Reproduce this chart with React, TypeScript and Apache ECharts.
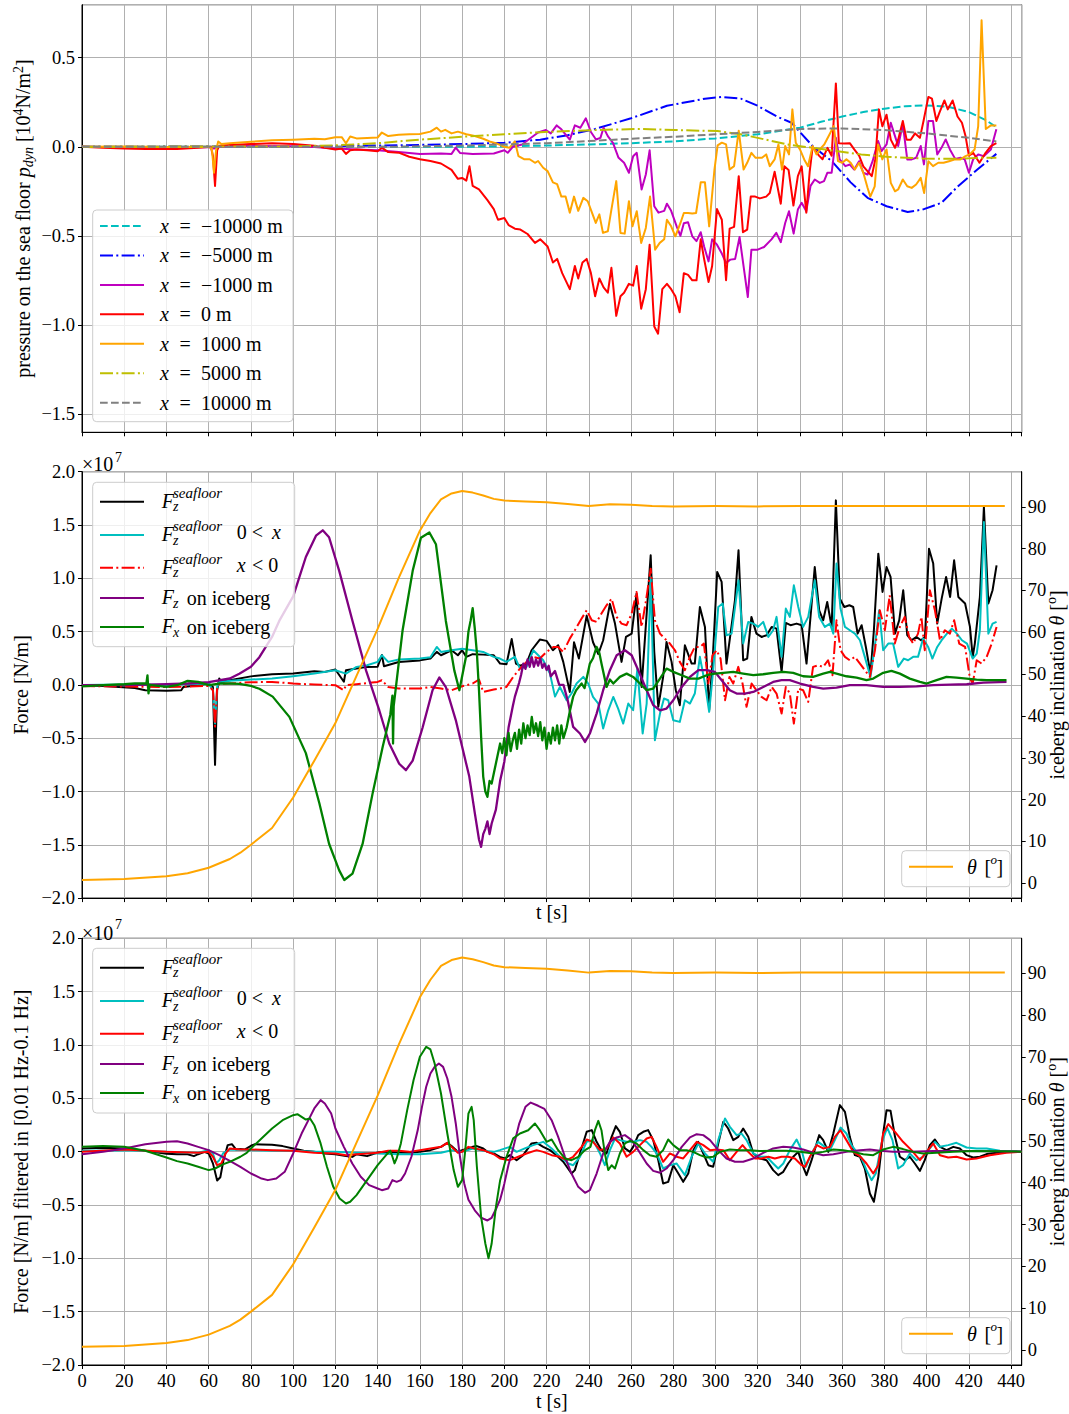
import React, { useEffect, useRef } from 'react';
import * as echarts from 'echarts';

type P = [number, number][];

const FONT = '"Liberation Serif", "Times New Roman", serif';

// ---------- shared time axis ----------
const T_MIN = 0;
const T_MAX = 445;
const T_STEP = 20;

// ---------- Panel 1: dynamic pressure on the sea floor [1e4 N/m^2] ----------
const p1Labels = ['\u221210000 m', '\u22125000 m', '\u22121000 m', '0 m', '1000 m', '5000 m', '10000 m'];

const pXm10000: P = [[0,0],[50,0],[100,0],[150,0],[180,0],[200,0.002],[220,0.007],[240,0.013],[260,0.02],[280,0.03],[300,0.047],[320,0.07],[330,0.088],[340,0.107],[350,0.14],[360,0.17],[370,0.195],[380,0.214],[390,0.228],[400,0.232],[410,0.225],[420,0.195],[428,0.15],[433,0.11]];

const pXm5000: P = [[0,0],[100,0.002],[150,0.008],[180,0.015],[200,0.022],[217,0.04],[230,0.065],[243,0.1],[260,0.16],[277,0.23],[295,0.27],[303,0.28],[312,0.27],[320,0.23],[329,0.17],[336,0.135],[346,0.004],[355,-0.08],[364,-0.2],[372,-0.287],[381,-0.334],[391,-0.366],[398,-0.353],[407,-0.315],[415,-0.22],[424,-0.128],[433,-0.04]];

const pXm1000: P = [[0,0],[20,-0.003],[40,-0.005],[60,-0.002],[62.5,-0.01],[64,0],[80,0.005],[100,0.003],[110,-0.002],[120,-0.01],[130,-0.015],[140,-0.02],[150,-0.03],[160,-0.04],[170,-0.038],[175,-0.04],[177,-0.005],[179,-0.035],[185,-0.04],[195,-0.038],[200,-0.02],[201.6,-0.034],[204,0],[208.4,0.013],[212,0.045],[216,0.08],[219.7,0.094],[222,0.075],[224.8,0.12],[227,0.098],[231,0.04],[233.4,0.12],[236,0.107],[238.6,0.16],[241,0.083],[243.4,0.041],[245.5,0.05],[247,0.107],[249,0.06],[251.5,0.02],[254,-0.06],[256.7,-0.09],[259,-0.146],[261,-0.053],[262.7,-0.034],[265,-0.24],[267,-0.156],[268.8,-0.02],[271,-0.334],[273,-0.37],[275.7,-0.36],[277,-0.32],[279,-0.36],[281.7,-0.45],[283.4,-0.5],[285,-0.43],[287,-0.424],[289,-0.503],[291,-0.53],[293,-0.48],[294.6,-0.56],[296.7,-0.644],[298.4,-0.52],[300.7,-0.55],[303,-0.6],[305,-0.653],[307,-0.634],[309.3,-0.63],[311.4,-0.507],[313.3,-0.672],[315.3,-0.844],[317,-0.578],[320,-0.578],[323,-0.563],[326.5,-0.52],[328.8,-0.484],[330.9,-0.536],[333,-0.428],[334.8,-0.362],[337,-0.488],[339,-0.353],[340.8,-0.315],[343,-0.362],[345,-0.22],[347,-0.184],[349.4,-0.203],[351.4,-0.193],[353,-0.146],[355,-0.146],[357,0.05],[358.8,-0.071],[361.5,-0.109],[363.6,-0.1],[365.7,-0.128],[368,-0.081],[370,-0.146],[372,-0.156],[374.4,-0.081],[377,0.032],[378.6,-0.024],[381,0.013],[383,0.135],[385,0.06],[386.5,0.004],[388.7,0.126],[390.8,-0.071],[392.9,-0.071],[395,-0.062],[397.2,0.004],[398.7,-0.099],[400.8,0.144],[403,0.144],[405,-0.043],[407,-0.006],[409,0.041],[411,-0.015],[413.5,-0.068],[416,-0.062],[418,-0.071],[420,-0.146],[422,-0.071],[424.4,-0.043],[427,-0.053],[430.4,-0.015],[433,0.098]];

const pX0: P = [[0,0],[10,-0.005],[20,-0.01],[30,-0.012],[45,-0.012],[55,-0.005],[61,0],[62,-0.05],[63,-0.22],[64,-0.02],[65,0.005],[70,0.01],[80,0.015],[90,0.02],[100,0.015],[110,0.005],[115,-0.005],[120,-0.015],[123,-0.01],[125,-0.04],[127,-0.02],[130,-0.015],[135,-0.02],[140,-0.025],[142,-0.005],[145,-0.03],[150,-0.033],[155,-0.056],[160,-0.07],[165,-0.08],[170,-0.094],[175,-0.13],[178,-0.18],[180,-0.175],[182,-0.19],[183.5,-0.11],[185,-0.22],[188,-0.24],[192,-0.3],[195,-0.35],[197,-0.41],[200,-0.4],[202,-0.44],[205,-0.46],[207.6,-0.465],[211,-0.49],[214.5,-0.54],[217,-0.52],[220.5,-0.56],[223,-0.65],[225,-0.63],[227.4,-0.71],[231,-0.8],[233.4,-0.67],[235,-0.74],[237,-0.65],[239,-0.63],[241,-0.71],[243,-0.84],[245,-0.74],[247,-0.79],[249,-0.82],[250.7,-0.68],[253,-0.95],[255,-0.84],[256.7,-0.82],[259,-0.77],[261,-0.78],[262.7,-0.67],[264.8,-0.91],[267,-0.8],[268.8,-0.55],[271,-1.01],[272.8,-1.05],[274.8,-0.8],[277,-0.77],[279,-0.8],[281,-0.84],[283,-0.93],[285,-0.71],[287,-0.72],[289,-0.75],[291,-0.75],[293,-0.52],[294.6,-0.63],[296.7,-0.76],[298.4,-0.67],[300.7,-0.35],[303,-0.41],[305,-0.75],[306.7,-0.46],[308.8,-0.45],[311,-0.165],[313,-0.48],[315,-0.465],[316.7,-0.28],[318.8,-0.28],[321,-0.29],[324,-0.28],[325.7,-0.26],[328,-0.14],[330.9,-0.32],[332.6,-0.11],[334.6,-0.13],[336.9,-0.33],[339,-0.165],[340.8,-0.11],[343,-0.37],[344.6,-0.14],[346,0],[349,-0.05],[350.7,-0.07],[353,-0.006],[355,-0.05],[357,0.356],[358.4,0.02],[361,0.019],[363.6,0.02],[365.7,-0.015],[368,-0.05],[370,-0.11],[374,-0.165],[375.7,-0.07],[377.4,0.21],[379,0.115],[381,0.18],[383,0.04],[385,-0.006],[386.5,0.04],[388.7,0.145],[390.5,0.04],[392.5,0.04],[394.5,0.075],[396.8,0.05],[398.5,0.145],[400.8,0.28],[402.5,0.27],[404.6,0.145],[406,0.19],[408.4,0.26],[410,0.21],[412.3,0.26],[414.6,0.17],[416.7,0.135],[418.4,0.06],[420,-0.05],[422,-0.034],[423.5,-0.062],[425,-0.09],[427.9,-0.034],[430.4,0.004],[433,0.02]];

const pX1000: P = [[0,0],[20,0.002],[40,-0.002],[60,0],[61.5,-0.01],[62.5,-0.146],[63.5,-0.02],[64.5,0.03],[66,0.015],[70,0.02],[80,0.028],[90,0.036],[100,0.04],[110,0.045],[115,0.042],[120,0.054],[123,0.054],[125,0.02],[127,0.058],[130,0.047],[140,0.052],[142,0.08],[145,0.06],[150,0.068],[155,0.07],[160,0.072],[165,0.085],[168,0.107],[170,0.085],[172,0.095],[175,0.075],[178,0.085],[182,0.07],[186,0.06],[190,0.045],[193,0.03],[196,0.02],[200,0],[202.4,-0.006],[205,0.03],[206.7,-0.053],[209.3,-0.07],[212,-0.07],[214.5,-0.09],[216,-0.08],[218.4,-0.118],[220.5,-0.137],[223,-0.2],[225,-0.21],[227,-0.28],[229,-0.28],[231,-0.37],[233,-0.28],[235,-0.36],[237.4,-0.287],[239.5,-0.306],[241.5,-0.37],[243.3,-0.428],[245,-0.38],[246.7,-0.484],[249,-0.475],[250.7,-0.353],[253,-0.193],[255,-0.484],[257,-0.488],[259,-0.306],[260.7,-0.447],[262.7,-0.362],[264.8,-0.54],[267,-0.456],[269,-0.28],[271.4,-0.578],[273.6,-0.54],[275.7,-0.52],[277,-0.41],[279,-0.447],[281,-0.503],[283.4,-0.428],[285,-0.372],[287,-0.372],[289,-0.375],[290.8,-0.372],[293,-0.2],[295,-0.2],[297,-0.447],[299.5,-0.128],[301,0.008],[303,0.023],[305,0.013],[306.7,-0.128],[308.8,-0.109],[311,0.09],[313.3,-0.128],[315,-0.09],[317,-0.034],[319,-0.062],[322,-0.062],[324,-0.043],[325.7,-0.109],[328,-0.071],[329.8,0.013],[331.5,-0.128],[333,0.004],[334.8,-0.043],[336.4,0.21],[338,0.023],[340,-0.015],[342,-0.071],[343.8,-0.109],[346,0.004],[347.8,-0.043],[350,-0.006],[351.5,0.013],[353.6,0.06],[356,0.116],[358,-0.081],[360,-0.09],[362,-0.071],[364,-0.09],[366,-0.128],[368,-0.09],[370,-0.146],[372,-0.23],[373.3,-0.28],[375.4,-0.222],[377,0.013],[379,-0.071],[381,-0.015],[383,-0.203],[385,-0.25],[386.5,-0.24],[388.7,-0.184],[390.8,-0.222],[392.9,-0.231],[395,-0.212],[397.2,-0.175],[398.8,-0.26],[400.8,-0.081],[403,-0.109],[405.5,-0.09],[408,-0.09],[410.6,-0.081],[413.5,-0.071],[416,-0.071],[418.4,-0.053],[420.4,-0.043],[422.7,-0.015],[424.4,0.116],[426,0.71],[428,0.1],[430.4,0.12],[433,0.12]];

const pX5000: P = [[0,0],[100,0.002],[120,0.008],[140,0.02],[160,0.04],[180,0.056],[200,0.07],[217,0.082],[243,0.094],[265,0.1],[281,0.094],[301,0.088],[312,0.07],[320,0.05],[334,0.013],[346,-0.006],[357,-0.024],[369,-0.043],[381,-0.056],[398,-0.066],[415,-0.068],[425,-0.062],[433,-0.062]];

const pX10000: P = [[0,0],[150,0],[180,0.007],[200,0.013],[220,0.02],[240,0.032],[260,0.045],[280,0.056],[300,0.07],[320,0.083],[340,0.1],[360,0.103],[380,0.094],[400,0.075],[420,0.05],[433,0.03]];

// ---------- Panel 2: forces [1e7 N/m] ----------
const fzSeafloor: P = [[0,0],[10,-0.01],[25,-0.03],[30,-0.05],[40,-0.056],[47,-0.05],[48,-0.02],[55,-0.003],[60,0.012],[62,-0.02],[63,-0.75],[64,-0.05],[65,0.06],[66,0.03],[70,0.044],[80,0.08],[90,0.1],[100,0.106],[110,0.128],[115,0.122],[120,0.144],[124,0.03],[125,0.138],[130,0.153],[135,0.169],[140,0.17],[142,0.28],[143,0.175],[150,0.215],[160,0.23],[165,0.247],[168,0.31],[170,0.278],[175,0.325],[178,0.278],[180,0.325],[182,0.263],[185,0.288],[190,0.284],[195,0.278],[198,0.2],[201,0.194],[203.5,0.43],[205.5,0.2],[207.4,0.18],[210.5,0.2],[212.9,0.325],[216.8,0.425],[220,0.413],[223,0.325],[225.5,0.372],[227.9,0.216],[231,-0.066],[233,0.4],[235.3,0.247],[239,0.65],[242,0.4],[244.5,0.29],[246.8,0.419],[250,0.76],[252.4,0.575],[255.5,0.216],[257.6,0.45],[260.3,0.481],[262.6,0.856],[265,-0.019],[267.4,0.669],[269.3,1.216],[271,0.309],[272.9,-0.206],[275.2,0.075],[276.8,0.403],[279.2,0.216],[281.2,-0.05],[283.1,-0.191],[285.5,0.372],[288.7,0.2],[290.2,0.2],[292.6,0.731],[295,0.544],[297,-0.238],[298.9,0.325],[300.8,1.06],[302.9,0.966],[305.2,0.2],[306.8,0.434],[309.2,0.794],[310.9,1.262],[313.1,0.231],[315,0.247],[317,0.638],[319.4,0.481],[321.8,0.45],[324.2,0.466],[326.6,0.544],[328.9,0.528],[331.3,0.122],[333.3,0.581],[335.5,0.56],[338.4,0.575],[340.8,0.56],[343.1,0.2],[347,1.106],[349.1,0.7],[351,0.606],[352.9,0.778],[355,0.544],[357,1.731],[358.9,0.809],[361,0.731],[363.4,0.747],[365.2,0.731],[367.3,0.481],[369.2,0.56],[371.2,0.356],[373.4,0.106],[375,0.513],[377.1,1.231],[379.1,0.872],[381,1.106],[382.9,1.013],[385,0.481],[387,0.606],[388.9,0.888],[390.8,0.466],[392.8,0.419],[395.2,0.45],[397.3,0.419],[399.2,0.45],[401.1,1.278],[403.1,1.138],[405,0.575],[407.1,0.809],[409.2,1.013],[411.1,0.825],[413,1.169],[415,0.825],[418.2,0.763],[420.5,0.544],[421.8,0.263],[422.8,0.388],[425.2,0.825],[427.1,1.669],[429.2,0.763],[431.2,0.888],[433.1,1.122]];

const fzSeafloorPos: P = [[0,0],[20,0.003],[40,0],[60,0.012],[62,-0.05],[63,-0.36],[64,-0.02],[65,0.028],[70,0.038],[80,0.05],[90,0.06],[100,0.081],[110,0.106],[120,0.138],[125,0.106],[130,0.169],[135,0.184],[140,0.216],[142,0.278],[145,0.216],[150,0.238],[160,0.247],[165,0.26],[168,0.356],[170,0.309],[175,0.325],[180,0.34],[185,0.325],[190,0.309],[195,0.263],[197.9,0.247],[201,0.216],[205,0.263],[207.4,0.153],[210.5,0.169],[213.7,0.325],[218.4,0.231],[221.6,0.106],[224,-0.11],[226.3,-0.019],[229.5,-0.144],[231.8,-0.081],[234.2,0.013],[237.4,0.075],[239.7,0.013],[242,-0.113],[244.5,-0.175],[246.8,-0.41],[249.2,-0.238],[251.6,-0.113],[253.9,-0.222],[256.3,-0.363],[258.7,-0.175],[261,-0.238],[263,0.153],[265.5,-0.456],[267.4,-0.175],[269.3,1.01],[271.3,-0.519],[273.7,-0.269],[275.6,-0.128],[277.6,-0.144],[280,-0.331],[283.1,-0.347],[285.5,-0.144],[287.9,-0.175],[290.2,-0.081],[292.6,0.263],[295,0.013],[297,-0.253],[298.9,0.138],[301.3,0.731],[303.4,0.763],[305.2,0.466],[307.6,0.481],[310.9,0.981],[313.1,0.388],[315.5,0.591],[317.9,0.575],[320.2,0.544],[322.6,0.591],[325,0.45],[327.3,0.513],[328.9,0.638],[331.3,0.263],[333.3,0.716],[335.2,0.638],[337.1,0.934],[339.2,0.731],[341.5,0.544],[343.9,0.638],[347,0.981],[349.1,0.638],[351.8,0.544],[354.2,0.575],[355.8,0.481],[357.3,1.138],[359.2,0.716],[361.3,0.544],[363.6,0.513],[366,0.481],[368.4,0.419],[370.7,0.263],[373.4,0.075],[375.5,0.372],[377.5,0.7],[379.4,0.325],[381.8,0.388],[384.1,0.388],[386.5,0.169],[389.2,0.247],[391.2,0.231],[393.6,0.263],[395.9,0.263],[398.3,0.434],[400.7,0.356],[402.7,0.247],[405,0.356],[407.1,0.419],[409.6,0.481],[411.9,0.528],[414.3,0.481],[416.7,0.419],[419.1,0.388],[421.8,0.247],[423.7,0.294],[425.2,0.513],[427.1,1.528],[429.2,0.481],[431.2,0.575],[433.1,0.591]];

const fzSeafloorNeg: P = [[0,-0.01],[20,-0.015],[40,-0.02],[60,-0.01],[62,-0.05],[63,-0.39],[64,-0.03],[65,0.01],[70,0.013],[80,0.025],[90,0.028],[100,0.013],[110,0.003],[120,-0.003],[124,-0.05],[125,-0.003],[130,0.006],[140,0.028],[142,0.044],[145,-0.019],[150,-0.034],[160,-0.034],[165,-0.019],[170,-0.034],[175,-0.05],[180,-0.013],[185,0.013],[188,0.05],[190,-0.066],[195,-0.044],[197.9,-0.034],[201,-0.019],[204.2,0.075],[207.4,0.153],[210.5,0.216],[213.7,0.263],[216.8,0.247],[220,0.309],[223.2,0.356],[225.5,0.356],[227.9,0.309],[231,0.434],[233.4,0.513],[236.6,0.622],[239,0.7],[241.4,0.606],[243.7,0.591],[246,0.669],[248.4,0.747],[250.8,0.809],[253.2,0.638],[255.5,0.575],[257.9,0.56],[260.3,0.669],[262.6,0.872],[265,0.544],[267.1,0.794],[269.3,1.09],[271.3,0.606],[273.7,0.481],[276,0.434],[278.4,0.388],[280.8,0.325],[283.1,0.216],[285.5,0.138],[287.9,0.263],[290.2,0.356],[292.6,0.356],[294.5,0.388],[296.6,0.013],[298.6,0.278],[300.5,0.325],[302.4,0.247],[304.5,-0.144],[306.6,0.075],[308.4,0.013],[310.8,0.169],[312.8,0.013],[314.7,-0.206],[317.1,0.013],[319.4,-0.05],[321.8,-0.113],[324.2,-0.144],[326.6,-0.019],[328.9,-0.081],[331.3,-0.269],[333.3,-0.019],[335.2,-0.081],[337.1,-0.363],[339.2,-0.034],[341.5,-0.05],[343.9,-0.16],[346.2,0.169],[348.6,0.184],[351,0.169],[353.3,0.231],[355.4,0.091],[357.3,0.606],[359.2,0.325],[361.3,0.263],[363.6,0.231],[366,0.263],[368.4,0.2],[370.7,0.138],[373.1,0.075],[375.5,0.325],[377.8,0.7],[380.2,0.513],[382.5,0.841],[384.9,0.388],[387.3,0.544],[389.6,0.638],[391.7,0.45],[393.6,0.388],[395.9,0.481],[397.5,0.638],[399.1,0.325],[401.5,0.888],[403.9,0.7],[406.3,0.419],[408.6,0.513],[411,0.481],[413,0.606],[415.4,0.388],[418.2,0.356],[420.5,0.06],[421.8,0.013],[423.7,0.231],[426,0.2],[428.4,0.263],[430.8,0.388],[433.1,0.544]];

const fzIceberg: P = [[0,-0.003],[20,-0.003],[40,0.006],[50,0.013],[60,0.025],[70,0.06],[74.5,0.105],[80,0.17],[84,0.26],[90,0.45],[93.4,0.6],[100,0.83],[106,1.2],[110.8,1.4],[114,1.45],[117,1.385],[121.8,1.07],[128.1,0.6],[134.5,0.136],[140.8,-0.24],[145.5,-0.55],[150.2,-0.74],[153.4,-0.8],[156.6,-0.71],[161.3,-0.4],[166,-0.05],[169.2,0.07],[172.3,-0.02],[177,-0.33],[183.4,-0.86],[186,-1.2],[188,-1.45],[189,-1.52],[190,-1.4],[191,-1.35],[192,-1.28],[193,-1.4],[194,-1.3],[196,-1.17],[198,-0.9],[200,-0.72],[202,-0.4],[204,-0.2],[205,-0.11],[207,0.02],[208,0.1],[209,0.2],[210,0.15],[211,0.24],[212,0.17],[213,0.26],[214,0.17],[215,0.24],[216,0.18],[217,0.25],[218,0.16],[219,0.2],[220,0.14],[221,0.18],[222,0.08],[224,0.13],[226,0],[228,0],[230,-0.145],[232.6,-0.394],[235.8,-0.456],[238.2,-0.535],[240.5,-0.456],[243.7,-0.269],[246.8,-0.05],[250,0.138],[253.2,0.278],[257.1,0.325],[260.3,0.278],[263.4,0.138],[267.4,-0.05],[270.5,-0.19],[273.7,-0.238],[276.8,-0.222],[280,-0.144],[284,-0.019],[287.9,0.075],[291.9,0.138],[295.8,0.138],[299.7,0.122],[302.9,0.044],[306.8,-0.05],[310,-0.081],[313.9,-0.081],[317.9,-0.066],[322.6,-0.019],[327.3,0.028],[331.3,0.044],[335.2,0.044],[340,0.013],[346.3,-0.019],[351,-0.034],[357.3,-0.025],[363.6,-0.003],[371.5,-0.003],[379.4,-0.019],[387.3,-0.019],[395.2,-0.013],[403.1,-0.003],[411.1,0.003],[419,0.006],[426.8,0.022],[437.8,0.028]];

const fxIceberg: P = [[0,-0.013],[10,-0.003],[20,0.006],[25,0.013],[30.5,0.013],[31,0.09],[31.5,-0.08],[32,0],[40,-0.019],[45,-0.003],[50,0.038],[55,0.028],[60,-0.003],[65,0.013],[70,0.013],[74.5,0.01],[80,-0.01],[84,-0.036],[90.3,-0.11],[98.2,-0.3],[106,-0.64],[112.4,-1.11],[117,-1.49],[121.8,-1.74],[124.2,-1.83],[128.1,-1.77],[132.9,-1.49],[137.6,-1.02],[142.4,-0.58],[146,-0.28],[147,-0.1],[147.3,-0.55],[147.6,-0.2],[151.8,0.51],[156.6,1.07],[160.5,1.38],[164.5,1.43],[167.6,1.32],[172.3,0.6],[176.3,0.136],[178.7,-0.05],[181.8,0.26],[183,0.5],[184,0.6],[185,0.72],[186,0.53],[187,0.3],[188,-0.05],[189,-0.488],[190,-0.86],[191,-1],[192,-1.05],[193,-0.9],[194,-0.925],[196,-0.738],[198,-0.55],[199,-0.64],[200,-0.5],[201,-0.66],[202,-0.45],[203,-0.62],[204,-0.52],[205,-0.45],[206,-0.6],[207,-0.42],[208,-0.55],[209,-0.36],[210,-0.5],[211,-0.38],[212,-0.47],[213,-0.3],[214,-0.45],[215,-0.36],[216,-0.48],[217,-0.35],[218,-0.52],[219,-0.4],[220,-0.6],[221,-0.45],[222,-0.55],[223,-0.4],[224,-0.52],[225,-0.38],[226,-0.55],[227,-0.38],[228,-0.5],[229.5,-0.4],[231,-0.25],[232.6,-0.11],[234,-0.05],[236.6,0.013],[238,-0.03],[240.5,0.2],[242,0.25],[243.7,0.356],[245,0.3],[246,0.2],[248.4,-0.019],[250,0.05],[251.6,0.013],[254.7,0.075],[257.9,0.106],[261,0.075],[264.2,0.013],[267.4,-0.05],[270.5,-0.034],[273.7,0.059],[276.8,0.153],[280,0.122],[284,0.091],[287.9,0.059],[291.9,0.059],[295.8,0.091],[299.7,0.106],[303.7,0.113],[308.4,0.122],[313.1,0.106],[317.9,0.091],[322.6,0.1],[327.3,0.113],[332.1,0.122],[336.8,0.113],[341.5,0.081],[346.2,0.075],[351,0.106],[354.2,0.122],[357.3,0.106],[362,0.081],[366.8,0.069],[371.5,0.044],[374.7,0.059],[379.4,0.113],[383.3,0.131],[387.3,0.106],[392,0.059],[396.8,0.028],[400,0.013],[404.7,0.044],[409.4,0.075],[414.1,0.069],[418.9,0.059],[423.6,0.05],[428.4,0.044],[433.1,0.044],[437.8,0.044]];

// iceberg inclination theta [deg]
const theta: P = [[0,0.8],[20,1],[40,1.7],[50,2.4],[60,3.7],[70,5.8],[75,7.3],[80,9.2],[90,13.2],[100,20.5],[110,29.3],[120,38.3],[130,49.6],[140,60.8],[150,73],[160,84.3],[165,88.5],[170,91.8],[175,93.2],[180,93.8],[185,93.4],[190,92.7],[195,91.9],[200,91.5],[210,91.3],[220,91.1],[230,90.7],[240,90.2],[250,90.6],[260,90.5],[270,90.2],[280,90.1],[300,90.2],[320,90.1],[340,90.2],[360,90.2],[380,90.2],[400,90.2],[420,90.2],[437,90.2]];

// ---------- Panel 3: forces filtered in [0.01 Hz - 0.1 Hz] [1e7 N/m] ----------
const fzSeafloorF: P = [[0,0.03],[10,0.036],[20,0.03],[30,0.008],[40,-0.02],[45,-0.024],[50,-0.024],[53,-0.042],[55,-0.024],[58,-0.002],[60,-0.017],[62,-0.11],[64,-0.27],[65.5,-0.24],[67,-0.08],[69,0.061],[71,0.07],[73,0.02],[75,0.024],[77,0.02],[80,0.055],[82,0.07],[85,0.067],[90,0.064],[95,0.052],[100,0.03],[105,0.008],[110,-0.002],[115,-0.017],[120,-0.024],[125,-0.042],[128,-0.049],[130,-0.024],[135,-0.042],[140,-0.008],[145,-0.002],[150,-0.008],[155,-0.011],[160,-0.002],[165,0.014],[170,0.045],[173,0.083],[175,0.052],[178,-0.002],[180,0.014],[183,0.03],[185,0.045],[187,0.052],[190,0.03],[192,-0.002],[195,-0.017],[197.9,-0.05],[200.3,-0.064],[202.6,-0.033],[205.8,-0.08],[208.9,-0.033],[212.9,0.077],[215.3,0.083],[218.4,0.045],[221.6,0.014],[224.7,-0.033],[227.9,-0.095],[231.8,-0.205],[233.4,-0.173],[235.8,-0.017],[239,0.186],[241.4,0.202],[243.7,0.092],[246,0.014],[248.4,-0.017],[250.8,0.139],[252.8,0.239],[254.7,0.186],[257.1,0.03],[259.5,-0.002],[261,0.045],[263.4,0.155],[265.8,0.186],[268.1,0.202],[270.5,0.108],[272.9,-0.08],[275.2,-0.298],[277.6,-0.283],[280,-0.127],[282.4,-0.205],[284.7,-0.283],[287.1,-0.205],[289.5,0.014],[291.8,0.092],[294.2,-0.017],[296.6,-0.127],[298.9,-0.142],[301.3,0.077],[303.7,0.28],[306,0.217],[308.4,0.108],[310.8,0.139],[313.1,0.217],[315.5,0.139],[317.9,-0.017],[321,-0.064],[324.2,-0.08],[327.3,-0.173],[329.7,-0.22],[332.1,-0.189],[334.4,-0.111],[336.8,-0.048],[339.2,-0.002],[341.2,-0.127],[343.1,-0.22],[345.5,-0.08],[349.1,0.155],[351,0.108],[353.4,-0.002],[355.8,0.17],[358.9,0.436],[361.3,0.373],[363.6,0.139],[366,-0.033],[368.4,-0.048],[370.7,-0.158],[373.1,-0.392],[375,-0.47],[377.1,-0.236],[379.4,0.17],[381,0.389],[382.9,0.383],[385,0.139],[387.3,-0.048],[389.7,-0.08],[392,-0.048],[394.4,-0.111],[396.8,-0.18],[399.1,-0.08],[401.5,0.061],[403.9,0.114],[406.3,0.045],[409.4,0.014],[412.6,0.045],[415.7,0.03],[418.9,-0.033],[422,-0.055],[425.2,-0.048],[428.4,-0.023],[433.1,-0.011],[439.4,-0.002],[445,0]];

const fzSeafloorPosF: P = [[0,0.008],[20,0.014],[40,-0.002],[55,-0.011],[60,0.014],[62,-0.017],[63.5,-0.11],[65,-0.08],[67,-0.011],[70,0.02],[80,0.014],[90,0.008],[100,0.008],[110,-0.002],[120,-0.002],[130,-0.011],[140,-0.017],[150,-0.024],[160,-0.024],[170,-0.011],[175,0.014],[180,-0.002],[185,0.03],[190,0.008],[195,-0.002],[197.9,0.014],[202.6,0.045],[205.8,-0.002],[209.7,0.03],[213.7,0.061],[218.4,0.092],[222.4,0.03],[226.3,-0.048],[230.3,-0.111],[232.6,-0.127],[235.8,-0.048],[239,0.092],[242,0.108],[245.3,-0.017],[247.6,-0.127],[250,0.014],[252.4,0.123],[254.7,0.108],[257.9,0.092],[261,0.092],[264.2,0.108],[267.4,0.092],[269.7,0.045],[272.1,-0.017],[275.2,-0.158],[278.4,-0.127],[281.6,-0.111],[285.5,-0.22],[288.7,-0.048],[291.9,0.077],[295,-0.017],[298.9,-0.095],[301.3,0.108],[304.5,0.311],[306.8,0.233],[310,0.155],[312.3,0.17],[314.7,0.108],[317.9,-0.017],[321,-0.048],[324.2,-0.048],[327.3,-0.111],[329.7,-0.158],[332.1,-0.111],[335.2,0.014],[338.4,0.114],[340.8,0.014],[342.8,-0.142],[345.5,-0.017],[348.6,0.092],[351.8,0.045],[354.2,0.014],[356.5,0.108],[359.2,0.226],[362,0.17],[364.4,0.061],[366.8,-0.002],[369.2,-0.064],[371.5,-0.173],[373.9,-0.267],[375.9,-0.205],[378.6,0.077],[381.3,0.226],[383.8,0.108],[386.5,-0.158],[388.8,-0.127],[392,-0.017],[395.2,-0.08],[398.3,-0.048],[401.5,0.03],[403.9,0.092],[406.3,0.045],[410.2,0.061],[414.1,0.083],[418.9,0.039],[423.6,0.03],[428.4,0.03],[434.7,0.008],[445,0]];

const fzSeafloorNegF: P = [[0,-0.002],[20,0.02],[40,-0.002],[55,-0.011],[60,-0.002],[62,-0.048],[64,-0.127],[66,-0.111],[68,-0.017],[70,0.03],[75,0.02],[80,0.02],[90,0.014],[100,0.008],[110,-0.011],[120,-0.017],[125,-0.033],[130,-0.024],[140,-0.011],[145,0.008],[150,0.008],[155,-0.002],[160,0.014],[165,0.03],[170,0.045],[173,0.083],[175,0.045],[178,-0.011],[180,-0.002],[183,0.045],[186,0.03],[190,0.014],[195,-0.024],[197.9,-0.064],[202.6,-0.08],[206.6,-0.048],[210.5,-0.017],[215.3,0.014],[218.4,-0.002],[222.4,-0.033],[226.3,-0.048],[229.5,-0.08],[232.6,-0.048],[236.6,0.045],[239,0.114],[242,0.092],[245.3,0.014],[248.4,0.03],[251.6,0.133],[254.7,0.077],[257.9,-0.048],[261,-0.002],[264.2,0.061],[267.4,0.123],[269.7,0.139],[272.1,0.045],[275.2,-0.095],[278.4,-0.017],[281.6,-0.048],[284.7,-0.064],[287.9,0.014],[291.1,0.092],[294.2,0.061],[297.4,0.014],[300.5,0.02],[303.7,0.014],[306.8,-0.08],[310,-0.002],[312.8,0.061],[315.5,-0.002],[318.7,-0.064],[321.8,-0.064],[325,-0.048],[328.1,-0.064],[331.3,-0.048],[334.4,-0.048],[337.6,-0.064],[340.8,-0.127],[342.4,-0.142],[344.7,-0.048],[347.9,0.061],[351,0.03],[354.2,0.045],[356.5,0.139],[359.2,0.201],[362,0.108],[365.2,-0.002],[368.4,-0.042],[371.5,-0.111],[374.7,-0.205],[377.1,-0.127],[379.4,0.17],[381.8,0.258],[385,0.186],[388.8,0.092],[392.8,0.014],[396.8,-0.08],[400,-0.002],[403.1,0.077],[406.3,-0.033],[410.2,-0.055],[414.1,-0.048],[418.9,-0.073],[423.6,-0.064],[429.9,-0.033],[437.8,-0.011],[445,0]];

const fzIcebergF: P = [[0,-0.024],[10,-0.002],[20,0.03],[30,0.07],[40,0.092],[45,0.098],[50,0.077],[55,0.045],[60,0.014],[65,-0.033],[70,-0.086],[75,-0.142],[80,-0.205],[85,-0.252],[88,-0.267],[92,-0.252],[96,-0.189],[100,-0.017],[104,0.17],[108,0.326],[110,0.405],[113,0.483],[115,0.451],[118,0.358],[120,0.217],[124,0.045],[128,-0.111],[132,-0.236],[136,-0.314],[140,-0.345],[142,-0.361],[145,-0.345],[147,-0.267],[149,-0.283],[151,-0.267],[153,-0.205],[156,-0.048],[159,0.202],[161,0.42],[163,0.608],[165,0.733],[167,0.795],[169,0.826],[171,0.795],[173,0.686],[175,0.514],[177,0.264],[179,-0.048],[181,-0.298],[183,-0.45],[186,-0.55],[189,-0.62],[192,-0.645],[194,-0.62],[196,-0.54],[198,-0.45],[200,-0.3],[202,-0.12],[204,0.02],[207,0.26],[210,0.42],[212.5,0.46],[216,0.43],[219,0.4],[222.4,0.295],[225.5,0.139],[228.7,-0.048],[231.8,-0.205],[235,-0.33],[238.2,-0.386],[240.5,-0.361],[243.7,-0.205],[246.8,-0.017],[250,0.092],[253.2,0.133],[257.1,0.155],[260.3,0.108],[263.4,0.014],[267.4,-0.111],[270.5,-0.18],[273.7,-0.198],[276.8,-0.158],[280,-0.08],[284,0.045],[287.9,0.133],[291.1,0.164],[294.2,0.155],[297.4,0.108],[301.3,0.014],[305.2,-0.064],[309.2,-0.095],[313.1,-0.095],[317.9,-0.064],[322.6,-0.011],[327.3,0.03],[332.1,0.045],[336.8,0.039],[341.5,0.02],[346.3,-0.011],[351,-0.033],[355.8,-0.024],[362,-0.002],[368.4,0.014],[373.1,0.02],[377.8,0.008],[384.1,-0.002],[392,-0.002],[403,0.005],[419,0.005],[445,0]];

const fxIcebergF: P = [[0,0.045],[10,0.052],[20,0.045],[30,0.008],[40,-0.055],[45,-0.089],[50,-0.111],[55,-0.142],[60,-0.173],[63,-0.158],[67,-0.117],[70,-0.095],[75,-0.048],[78,-0.011],[80,0.03],[85,0.123],[90,0.217],[95,0.295],[100,0.342],[102,0.351],[104,0.326],[106,0.301],[108,0.311],[110,0.248],[113,0.077],[116,-0.142],[119,-0.33],[122,-0.439],[125,-0.486],[127,-0.47],[130,-0.408],[135,-0.267],[140,-0.127],[144,-0.033],[146,0.008],[147,-0.048],[148,-0.11],[149,-0.064],[151,0.077],[154,0.389],[157,0.67],[160,0.889],[163,0.983],[165,0.958],[167,0.826],[170,0.545],[173,0.17],[176,-0.173],[178,-0.33],[180,-0.267],[181.5,0.014],[183,0.358],[184.5,0.42],[185.5,0.295],[187,-0.142],[189,-0.611],[191,-0.861],[192.5,-1],[194,-0.861],[196,-0.52],[198,-0.27],[201,-0.05],[204.2,0.125],[207.4,0.17],[211.3,0.201],[214.5,0.264],[216.8,0.201],[220,0.092],[222.4,0.114],[225.5,0.014],[228.7,-0.064],[231.8,-0.08],[235,-0.048],[238.2,0.014],[240.8,0.045],[242.9,0.201],[244.5,0.289],[246,0.201],[247.6,-0.017],[249.2,-0.173],[250.8,-0.127],[252.4,-0.158],[254.7,-0.017],[257.1,0.077],[259.5,0.102],[262.6,0.077],[265.8,0.014],[268.9,-0.033],[272.1,-0.048],[275.2,0.014],[277.6,0.114],[280,0.061],[283.1,0.014],[286.3,0.014],[289.5,-0.002],[292.6,-0.033],[295.8,-0.055],[298.9,-0.048],[302.1,-0.002],[306.8,0.02],[311.6,0.014],[316.3,0.014],[321,0.005],[327.3,0.008],[333.6,0.008],[340,-0.002],[346.3,-0.017],[351,-0.002],[355.8,0.02],[360.5,0.014],[365.2,-0.002],[370,-0.024],[374.7,-0.033],[379.4,0.02],[384.1,0.045],[388.8,0.024],[393.6,-0.002],[398.3,-0.017],[404.7,-0.011],[412.6,-0.002],[422,0.005],[445,0]];

// ---------- styling ----------
const C_CYAN = '#00bfbf';
const C_BLUE = '#0000ff';
const C_MAG = '#bf00bf';
const C_RED = '#ff0000';
const C_ORANGE = '#ffa500';
const C_OLIVE = '#bfbf00';
const C_GRAY = '#808080';
const C_BLACK = '#000000';
const C_PURPLE = '#800080';
const C_GREEN = '#008000';
const DASHED = [7.7, 3.3];
const DASHDOT = [13, 3.3, 2, 3.3];
const GRID_COLOR = '#b0b0b0';

const L = 82;
const R = 1021.7;
const GRIDS = [
  { top: 4.7, height: 427.6 },
  { top: 471.7, height: 426.4 },
  { top: 938.3, height: 426.7 },
];

const fmt1 = (v: number) => (Math.abs(v) < 1e-9 ? '0.0' : (v < 0 ? '\u2212' : '') + Math.abs(v).toFixed(1));

function mkLine(name: string, data: P, xi: number, yi: number, color: string, dash?: number[], width = 2, z = 2) {
  return {
    type: 'line', name, data, xAxisIndex: xi, yAxisIndex: yi,
    symbol: 'none', showSymbol: false, silent: true, animation: false,
    lineStyle: { color, width, type: dash || 'solid', cap: 'butt', join: 'round' },
    itemStyle: { color }, z,
  };
}

const nameRich = {
  i: { fontFamily: FONT, fontSize: 20, fontStyle: 'italic', color: '#000' },
  sub: { fontFamily: FONT, fontSize: 14, fontStyle: 'italic', verticalAlign: 'bottom', lineHeight: 14, color: '#000' },
  sup: { fontFamily: FONT, fontSize: 14, verticalAlign: 'top', lineHeight: 14, color: '#000' },
};
const nameStyle = { fontFamily: FONT, fontSize: 20, color: '#000', lineHeight: 24, rich: nameRich };

const axisLineStyle = { show: true, onZero: false, lineStyle: { color: '#000', width: 1 } };
const tickStyle = { show: true, length: 4, inside: false, lineStyle: { color: '#000', width: 1 } };
const splitStyle = { show: true, lineStyle: { color: GRID_COLOR, width: 1 } };
const labelBase = { color: '#000', fontFamily: FONT, fontSize: 18.5 };

// ---------- graphic helpers (legends) ----------
function gText(x: number, y: number, text: string, size = 20, italic = false) {
  return {
    type: 'text', x, y, z: 102, silent: true,
    style: { text, fontFamily: FONT, fontSize: size, fontStyle: italic ? 'italic' : 'normal', fill: '#000', align: 'left', verticalAlign: 'middle', textAlign: 'left', textVerticalAlign: 'middle' },
  };
}
function gLine(x1: number, x2: number, y: number, color: string, dash?: number[]) {
  return { type: 'line', z: 101, silent: true, shape: { x1, y1: y, x2, y2: y }, style: { stroke: color, lineWidth: 2, lineDash: dash || null } };
}
function gBox(x: number, y: number, w: number, h: number) {
  return { type: 'rect', z: 100, silent: true, shape: { x, y, width: w, height: h, r: 4 }, style: { fill: 'rgba(255,255,255,0.8)', stroke: '#cccccc', lineWidth: 1 } };
}

function buildGraphics() {
  const g: any[] = [];
  // panel 1 legend
  g.push(gBox(92.7, 210, 200.3, 211.7));
  const p1Styles: [string, number[] | undefined][] = [
    [C_CYAN, DASHED], [C_BLUE, DASHDOT], [C_MAG, undefined], [C_RED, undefined], [C_ORANGE, undefined], [C_OLIVE, DASHDOT], [C_GRAY, DASHED],
  ];
  p1Labels.forEach((lab, k) => {
    const y = 226 + k * 29.45;
    g.push(gLine(100, 144, y, p1Styles[k][0], p1Styles[k][1]));
    g.push(gText(160, y, 'x', 20, true));
    g.push(gText(179.5, y, '=', 20));
    g.push(gText(201, y, lab, 20));
  });

  // panels 2 and 3 legends
  const legendSets = [
    { top: 482.3, h: 164.4, redDash: DASHDOT as number[] | undefined, thetaY: 868.7, tBoxTop: 850.7, xTop: 464, supTop: 457 },
    { top: 948.3, h: 164.7, redDash: undefined as number[] | undefined, thetaY: 1335.7, tBoxTop: 1317.7, xTop: 932.5, supTop: 924 },
  ];
  legendSets.forEach((s) => {
    g.push(gBox(92.7, s.top, 202, s.h));
    const rows = [s.top + 19.5, s.top + 52.7, s.top + 85.5, s.top + 115.7, s.top + 144.7];
    const cols: [string, number[] | undefined][] = [[C_BLACK, undefined], [C_CYAN, undefined], [C_RED, s.redDash], [C_PURPLE, undefined], [C_GREEN, undefined]];
    rows.forEach((y, k) => {
      g.push(gLine(100, 144, y, cols[k][0], cols[k][1]));
      g.push(gText(161.7, y - 1, 'F', 20, true));
      if (k < 3) {
        g.push(gText(173, y - 9, 'seafloor', 15, true));
        g.push(gText(173, y + 5, 'z', 14, true));
      } else {
        g.push(gText(173, y + 5, k === 3 ? 'z' : 'x', 14, true));
        g.push(gText(186.7, y, 'on iceberg', 20));
      }
    });
    // "0 < x" and "x < 0"
    g.push(gText(236.7, rows[1] - 3, '0 <', 20));
    g.push(gText(272, rows[1] - 3, 'x', 20, true));
    g.push(gText(236.7, rows[2] - 3, 'x', 20, true));
    g.push(gText(252, rows[2] - 3, '< 0', 20));

    // theta legend
    g.push(gBox(901.7, s.tBoxTop, 108.3, 36));
    g.push(gLine(909, 953, s.thetaY - 2, C_ORANGE));
    g.push(gText(967, s.thetaY - 2, '\u03b8', 20, true));
    g.push(gText(984.5, s.thetaY - 2, '[', 20));
    g.push(gText(990.5, s.thetaY - 9, 'o', 13, true));
    g.push(gText(996.5, s.thetaY - 2, ']', 20));

    // x10^7 offset text
    g.push(gText(82, s.xTop, '\u00d710', 20));
    g.push(gText(115, s.supTop, '7', 14));
  });
  return g;
}

function buildOption() {
  const grid = GRIDS.map((gr) => ({
    left: L, width: R - L, top: gr.top, height: gr.height,
    show: true, borderColor: '#000', borderWidth: 1, backgroundColor: 'transparent',
    containLabel: false, outerBoundsMode: 'none',
  }));

  const xAxis = [0, 1, 2].map((i) => ({
    type: 'value', gridIndex: i, min: T_MIN, max: T_MAX, interval: T_STEP,
    axisLine: axisLineStyle, axisTick: tickStyle, splitLine: splitStyle,
    axisLabel: { ...labelBase, show: i === 2, showMaxLabel: false, margin: 6, formatter: (v: number) => String(Math.round(v)) },
    name: i === 0 ? '' : 't [s]', nameLocation: 'middle', nameGap: i === 1 ? 4 : 26, nameMoveOverlap: false,
    nameTextStyle: { fontFamily: FONT, fontSize: 20, color: '#000' },
  }));

  const thetaAxis = (gi: number) => ({
    type: 'value', gridIndex: gi, position: 'right', min: -3.55, max: 98.4, splitNumber: 10,
    axisLine: axisLineStyle, axisTick: tickStyle, splitLine: { show: false },
    axisLabel: { ...labelBase, margin: 6, showMinLabel: false, showMaxLabel: false, formatter: (v: number) => String(Math.round(v) === 0 ? 0 : Math.round(v)) },
    name: 'iceberg inclination {i|\u03b8} [{sup|o}]', nameLocation: 'middle', nameRotate: 90, nameGap: 23, nameMoveOverlap: false,
    nameTextStyle: nameStyle,
  });

  const forceAxis = (gi: number, name: string) => ({
    type: 'value', gridIndex: gi, min: -2, max: 2, interval: 0.5,
    axisLine: axisLineStyle, axisTick: tickStyle, splitLine: splitStyle,
    axisLabel: { ...labelBase, margin: 7, formatter: fmt1 },
    name, nameLocation: 'middle', nameRotate: 90, nameGap: 49, nameMoveOverlap: false,
    nameTextStyle: nameStyle,
  });

  const yAxis = [
    {
      type: 'value', gridIndex: 0, min: -1.604, max: 0.798, splitNumber: 5,
      axisLine: axisLineStyle, axisTick: tickStyle, splitLine: splitStyle,
      axisLabel: { ...labelBase, margin: 7, showMinLabel: false, showMaxLabel: false, formatter: fmt1 },
      name: 'pressure on the sea floor {i|p}{sub|dyn} [10{sup|4}N/m{sup|2}]',
      nameLocation: 'middle', nameRotate: 90, nameGap: 47, nameMoveOverlap: false, nameTextStyle: nameStyle,
    },
    forceAxis(1, 'Force [N/m]'),
    thetaAxis(1),
    forceAxis(2, 'Force [N/m] filtered in [0.01 Hz-0.1 Hz]'),
    thetaAxis(2),
  ];

  const series = [
    mkLine('x=-10000', pXm10000, 0, 0, C_CYAN, DASHED),
    mkLine('x=-5000', pXm5000, 0, 0, C_BLUE, DASHDOT),
    mkLine('x=-1000', pXm1000, 0, 0, C_MAG),
    mkLine('x=0', pX0, 0, 0, C_RED),
    mkLine('x=1000', pX1000, 0, 0, C_ORANGE),
    mkLine('x=5000', pX5000, 0, 0, C_OLIVE, DASHDOT),
    mkLine('x=10000', pX10000, 0, 0, C_GRAY, DASHED),

    mkLine('Fz seafloor', fzSeafloor, 1, 1, C_BLACK),
    mkLine('Fz seafloor 0<x', fzSeafloorPos, 1, 1, C_CYAN),
    mkLine('Fz seafloor x<0', fzSeafloorNeg, 1, 1, C_RED, DASHDOT),
    mkLine('Fz on iceberg', fzIceberg, 1, 1, C_PURPLE, undefined, 2.3),
    mkLine('Fx on iceberg', fxIceberg, 1, 1, C_GREEN, undefined, 2.3),
    mkLine('theta', theta, 1, 2, C_ORANGE, undefined, 2, 3),

    mkLine('Fz seafloor f', fzSeafloorF, 2, 3, C_BLACK),
    mkLine('Fz seafloor 0<x f', fzSeafloorPosF, 2, 3, C_CYAN),
    mkLine('Fz seafloor x<0 f', fzSeafloorNegF, 2, 3, C_RED),
    mkLine('Fz on iceberg f', fzIcebergF, 2, 3, C_PURPLE),
    mkLine('Fx on iceberg f', fxIcebergF, 2, 3, C_GREEN),
    mkLine('theta f', theta, 2, 4, C_ORANGE, undefined, 2, 3),
  ];

  return {
    animation: false,
    backgroundColor: '#ffffff',
    textStyle: { fontFamily: FONT },
    grid, xAxis, yAxis, series,
    graphic: buildGraphics(),
  };
}

export default function App() {
  const ref = useRef<HTMLDivElement>(null);
  useEffect(() => {
    if (!ref.current) return;
    const chart = echarts.init(ref.current, undefined, { renderer: 'svg' });
    chart.setOption(buildOption() as any);
    return () => chart.dispose();
  }, []);
  return (
    <div
      ref={ref}
      style={{ position: 'absolute', left: 0, top: 0, width: 1069, height: 1414, background: '#fff' }}
    />
  );
}
